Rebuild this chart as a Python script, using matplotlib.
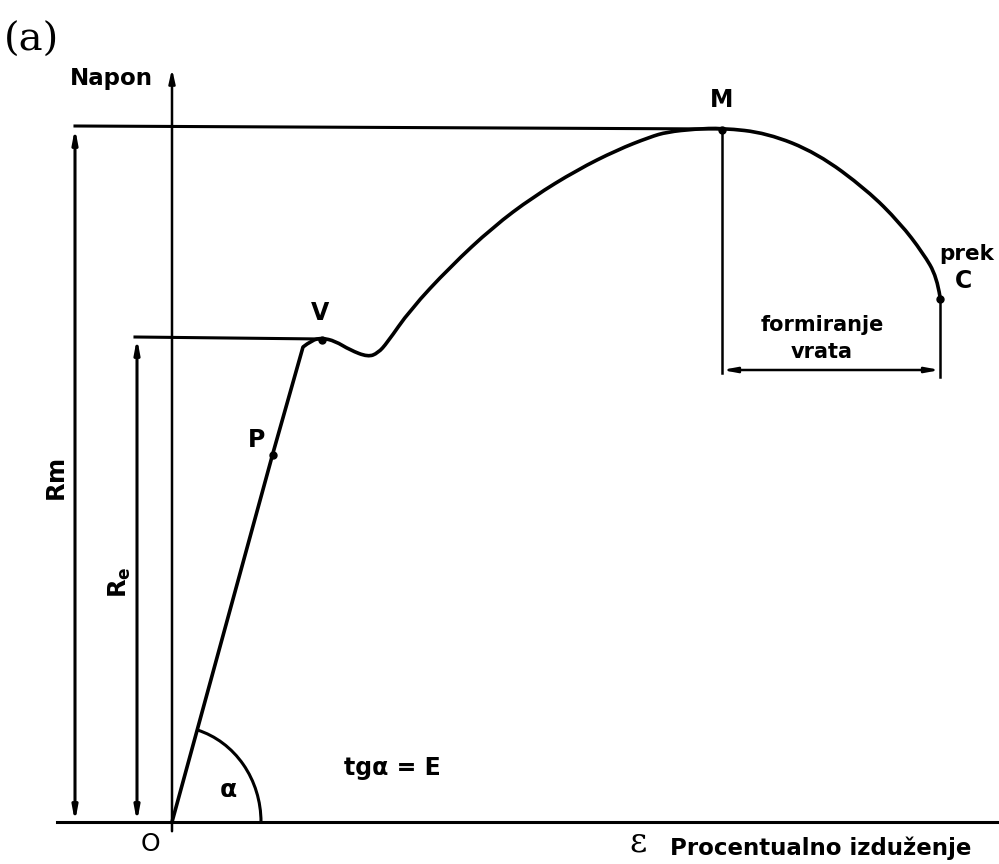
import matplotlib.pyplot as plt
from matplotlib.patches import Arc
from matplotlib.path import Path
from matplotlib.patches import PathPatch

# tensile curve, strain / stress in drawing units (origin at O)
strain = [0, 101, 131, 140, 150, 163, 178, 196, 206, 215, 238, 278, 321, 361,
          405, 445, 478, 495, 523, 550, 595, 645, 695, 728, 751, 765, 768]
stress = [0, 369, 475, 482, 484, 481, 472, 465, 469, 479, 512, 555, 595, 625,
          652, 672, 685, 690, 693, 694, 689, 669, 632, 599, 569, 545, 525]

point_names = ["P", "V", "M", "C"]
point_idx = [1, 4, 19, 26]

Re = stress[4]
Rm = stress[19]
alpha_deg = 74.7

fig = plt.figure(figsize=(9.99, 8.64), dpi=100)
ax = fig.add_axes([0, 0, 1, 1])
ax.set_xlim(-172, 827)
ax.set_ylim(-42, 822)
ax.axis("off")

lw = 2.2
font = dict(family="DejaVu Sans", weight="bold", color="black")

# axes of the diagram
ax.plot([-115, 827], [0, 0], color="black", lw=lw)
ax.annotate("", xy=(0, 756), xytext=(0, -12),
            arrowprops=dict(arrowstyle="-|>,head_length=0.8,head_width=0.18",
                            color="black", lw=1.8))

# curve: straight elastic part, then a smooth quadratic spline
pts = list(zip(strain, stress))
verts = [pts[0], pts[1], pts[2]]
codes = [Path.MOVETO, Path.LINETO, Path.LINETO]
for k in range(3, len(pts) - 1):
    a, b = pts[k], pts[k + 1]
    verts += [a, ((a[0] + b[0]) / 2, (a[1] + b[1]) / 2)]
    codes += [Path.CURVE3, Path.CURVE3]
verts[-1] = pts[-1]
ax.add_patch(PathPatch(Path(verts, codes), fill=False, ec="black", lw=2.6,
                       joinstyle="round", capstyle="round"))
for name, i in zip(point_names, point_idx):
    ax.plot(strain[i], stress[i] - 2, "o", color="black", ms=5)

# Rm and Re dimension lines
ax.plot([-97, strain[19]], [Rm + 2, Rm - 1], color="black", lw=lw)
ax.annotate("", xy=(-97, Rm), xytext=(-97, 0),
            arrowprops=dict(arrowstyle="<|-|>,head_length=0.8,head_width=0.15",
                            color="black", lw=lw, shrinkA=0, shrinkB=0))
ax.plot([-37, strain[4]], [Re + 1, Re - 1], color="black", lw=lw)
ax.annotate("", xy=(-35, Re), xytext=(-35, 0),
            arrowprops=dict(arrowstyle="<|-|>,head_length=0.8,head_width=0.15",
                            color="black", lw=lw, shrinkA=0, shrinkB=0))

# necking zone M -> C
ax.plot([strain[19], strain[19]], [Rm, 449], color="black", lw=1.8)
ax.plot([strain[26], strain[26]], [stress[26], 445], color="black", lw=1.8)
ax.annotate("", xy=(strain[19], 452), xytext=(strain[26], 452),
            arrowprops=dict(arrowstyle="<|-|>,head_length=0.8,head_width=0.15",
                            color="black", lw=1.8, shrinkA=0, shrinkB=0))

# angle alpha
ax.add_patch(Arc((0, 0), 178, 192, theta1=0, theta2=alpha_deg,
                 color="black", lw=2.2))

# labels
ax.text(-168, 782, "(a)", family="DejaVu Serif", fontsize=29, va="center", ha="left")
ax.text(-102, 744, "Napon", fontsize=16.5, ha="left", va="center", **font)
ax.text(strain[19], 722, "M", fontsize=17, ha="center", va="center", **font)
ax.text(strain[4] - 2, 509, "V", fontsize=17, ha="center", va="center", **font)
ax.text(strain[1] - 16, 382, "P", fontsize=17, ha="center", va="center", **font)
ax.text(strain[26] + 23, 541, "C", fontsize=17, ha="center", va="center", **font)
ax.text(767, 568, "prek", fontsize=15.5, ha="left", va="center", **font)
ax.text(650, 497, "formiranje", fontsize=15, ha="center", va="center", **font)
ax.text(650, 470, "vrata", fontsize=15, ha="center", va="center", **font)
ax.text(-114, 342, "R$\\mathregular{m}$", fontsize=17.5, rotation=90,
        ha="center", va="center", **font)
ax.text(-52, 240, "R$\\mathregular{_e}$", fontsize=17.5, rotation=90,
        ha="center", va="center", **font)
ax.text(56, 32, "α", fontsize=18, ha="center", va="center", **font)
ax.text(220, 54, "tgα = E", fontsize=17, ha="center", va="center", **font)
ax.text(-22, -22, "O", fontsize=18, ha="center", va="center",
        family="DejaVu Sans", color="black")
ax.text(466, -21, "ε", fontsize=24, ha="center", va="center",
        family="DejaVu Serif", color="black")
ax.text(498, -26, "Procentualno izduženje", fontsize=16.5, ha="left", va="center", **font)

fig.savefig("out.png", dpi=100)
